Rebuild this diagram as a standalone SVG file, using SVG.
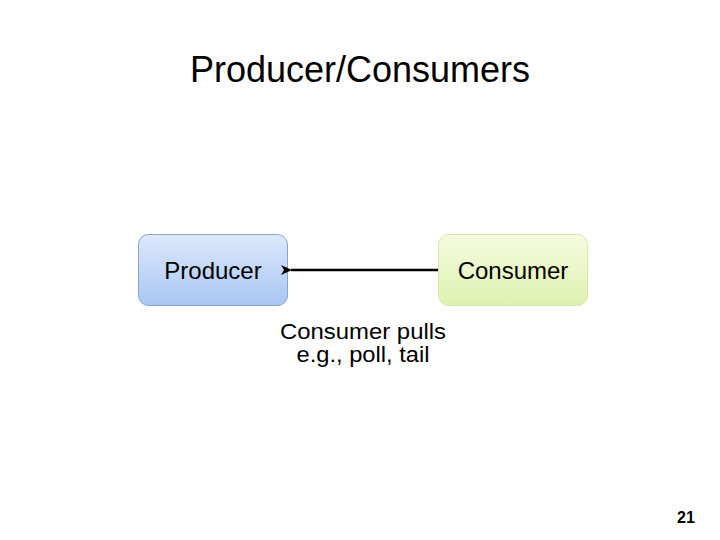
<svg xmlns="http://www.w3.org/2000/svg" width="720" height="540" viewBox="0 0 720 540">
<style>
text{font-family:"Liberation Sans",Arial,sans-serif;fill:#000}
.box{stroke-width:1}
.lbl{font-size:24px;text-anchor:middle}
.note{font-size:22px;text-anchor:middle}
</style>
<defs>
<linearGradient id="gb" x1="0" y1="0" x2="0" y2="1">
<stop offset="0" stop-color="#dde8fb"/>
<stop offset="1" stop-color="#a9c6f4"/>
</linearGradient>
<linearGradient id="gg" x1="0" y1="0" x2="0" y2="1">
<stop offset="0" stop-color="#f4fbe0"/>
<stop offset="1" stop-color="#dff2b0"/>
</linearGradient>
<marker id="ah" markerWidth="12" markerHeight="10" refX="1" refY="5" orient="auto" markerUnits="userSpaceOnUse">
<path d="M11,0 L0,5 L11,10 L8,5 z" fill="#000"/>
</marker>
</defs>
<rect width="720" height="540" fill="#fff"/>
<text x="360" y="82" font-size="36" text-anchor="middle">Producer/Consumers</text>
<g id="producer">
<rect class="box" x="138.5" y="234.5" width="149" height="71" rx="10" fill="url(#gb)" stroke="#8aa3c8"/>
<text class="lbl" x="213" y="279">Producer</text>
</g>
<g id="consumer">
<rect class="box" x="438.5" y="234.5" width="149" height="71" rx="10" fill="url(#gg)" stroke="#d6e8a8"/>
<text class="lbl" x="513" y="279">Consumer</text>
</g>
<g id="connectors">
<line x1="438" y1="270" x2="291" y2="270" stroke="#000" stroke-width="2.5" marker-end="url(#ah)"/>
</g>
<text class="note" x="363" y="339" textLength="166" lengthAdjust="spacingAndGlyphs">Consumer pulls</text>
<text class="note" x="363" y="362" textLength="133" lengthAdjust="spacingAndGlyphs">e.g., poll, tail</text>
<text x="686" y="523" font-size="16" text-anchor="middle" font-weight="bold">21</text>
</svg>
